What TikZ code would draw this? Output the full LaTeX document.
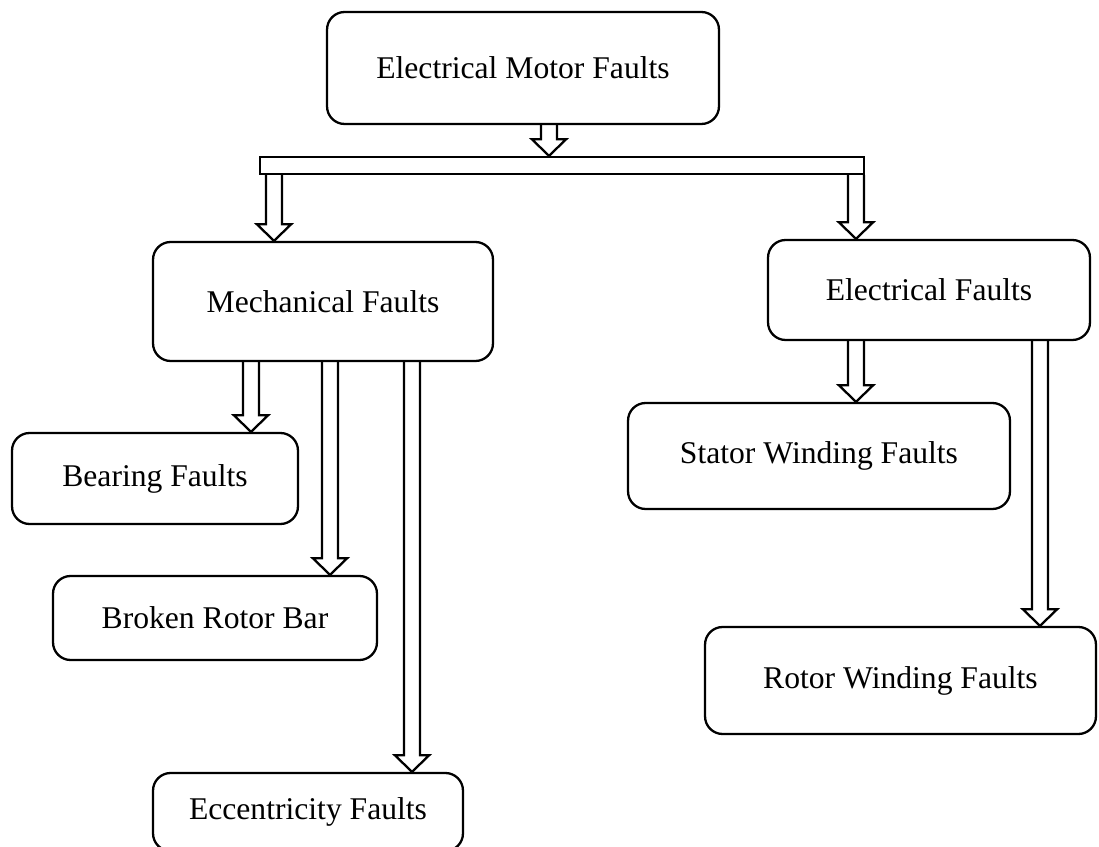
\documentclass[tikz,border=0pt]{standalone}
\usepackage{fontspec}
\setmainfont{Liberation Serif}
\usetikzlibrary{calc}

\newcommand{\fatarrow}[2]{%
  \draw[fatline] let \p1=(#1), \p2=(#2) in
    (\x1-4.6pt,\y1) -- (\x1-4.6pt,\y2+9.5pt) -- (\x1-9.8pt,\y2+9.5pt) -- (\x1,\y2)
    -- (\x1+9.8pt,\y2+9.5pt) -- (\x1+4.6pt,\y2+9.5pt) -- (\x1+4.6pt,\y1);}

\begin{document}
\begin{tikzpicture}[x=0.02cm,y=-0.02cm,
  faultbox/.style={draw,line width=1.3pt,rounded corners=10pt,font=\fontsize{18}{21}\selectfont,inner sep=0pt},
  fatline/.style={draw,line width=1.3pt,line join=miter}]
  \useasboundingbox (0,0) rectangle (1099,847);
  \node[faultbox,minimum width=7.84cm,minimum height=2.24cm] (top) at (523,68) {Electrical Motor Faults};
  \node[draw,line width=1.3pt,minimum width=12.08cm,minimum height=0.34cm,inner sep=0pt] (bar) at (562,165.5) {};
  \node[faultbox,minimum width=6.8cm,minimum height=2.38cm] (mech) at (323,301.5) {Mechanical Faults};
  \node[faultbox,minimum width=6.44cm,minimum height=2cm] (elec) at (929,290) {Electrical Faults};
  \node[faultbox,minimum width=5.72cm,minimum height=1.82cm] (bear) at (155,478.5) {Bearing Faults};
  \node[faultbox,minimum width=6.48cm,minimum height=1.68cm] (broken) at (215,618) {Broken Rotor Bar};
  \node[faultbox,minimum width=6.2cm,minimum height=1.56cm] (ecc) at (308,812) {Eccentricity Faults};
  \node[faultbox,minimum width=7.64cm,minimum height=2.12cm] (stator) at (819,456) {Stator Winding Faults};
  \node[faultbox,minimum width=7.82cm,minimum height=2.14cm] (rotor) at (900.5,680.5) {Rotor Winding Faults};
  % x positions of the arrows
  \coordinate (xtop) at (549,0);
  \coordinate (xmech) at (274,0);
  \coordinate (xelec) at (856,0);
  \coordinate (xbear) at (251,0);
  \coordinate (xbroken) at (330,0);
  \coordinate (xecc) at (412,0);
  \coordinate (xstator) at (856,0);
  \coordinate (xrotor) at (1040,0);
  \fatarrow{top.south -| xtop}{bar.north -| xtop}
  \fatarrow{bar.south -| xmech}{mech.north -| xmech}
  \fatarrow{bar.south -| xelec}{elec.north -| xelec}
  \fatarrow{mech.south -| xbear}{bear.north -| xbear}
  \fatarrow{mech.south -| xbroken}{broken.north -| xbroken}
  \fatarrow{mech.south -| xecc}{ecc.north -| xecc}
  \fatarrow{elec.south -| xstator}{stator.north -| xstator}
  \fatarrow{elec.south -| xrotor}{rotor.north -| xrotor}
\end{tikzpicture}
\end{document}
